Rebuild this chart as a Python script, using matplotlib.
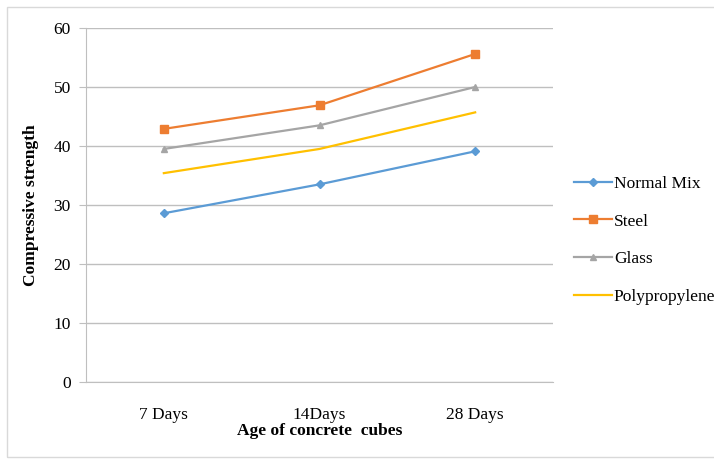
import matplotlib.pyplot as plt
from matplotlib.patches import Rectangle

categories = ["7 Days", "14Days", "28 Days"]
normal_mix = [28.6, 33.5, 39.1]
steel = [42.9, 46.9, 55.6]
glass = [39.5, 43.5, 50.0]
polypropylene = [35.4, 39.5, 45.7]

plt.rcParams['font.family'] = ['Liberation Serif', 'DejaVu Serif']

fig = plt.figure(figsize=(7.14, 4.65), dpi=100)
ax = fig.add_axes([86/714, 1 - 382/465, (553 - 86)/714, (382 - 28)/465])

# outer chart border
fig.patches.append(Rectangle((7/714, 8/465), 1.2, 450/465, transform=fig.transFigure,
                             fill=False, edgecolor='#d9d9d9', linewidth=1))

x = range(len(categories))
ax.plot(x, normal_mix, color='#5B9BD5', marker='D', markersize=4, linewidth=1.6, label='Normal Mix')
ax.plot(x, steel, color='#ED7D31', marker='s', markersize=6, linewidth=1.6, label='Steel')
ax.plot(x, glass, color='#A5A5A5', marker='^', markersize=5, linewidth=1.6, label='Glass')
ax.plot(x, polypropylene, color='#FFC000', linewidth=1.6, label='Polypropylene')

ax.set_xlim(-0.5, 2.5)
ax.set_ylim(0, 60)
ax.set_yticks(range(0, 61, 10))
ax.set_xticks(list(x))
ax.set_xticklabels(categories)
ax.yaxis.grid(True, color='#bfbfbf', linewidth=1)
ax.set_axisbelow(True)

for side in ['top', 'right']:
    ax.spines[side].set_visible(False)
ax.spines['left'].set_color('#bfbfbf')
ax.spines['bottom'].set_color('#bfbfbf')
ax.tick_params(axis='y', length=5, color='#bfbfbf', labelsize=12.5, pad=6)
ax.tick_params(axis='x', length=0, labelsize=12.5, pad=18)

ax.set_ylabel('Compressive strength', fontsize=12.5, fontweight='bold', labelpad=10)
ax.set_xlabel('Age of concrete  cubes', fontsize=12.5, fontweight='bold', labelpad=0)

ax.legend(loc='center left', bbox_to_anchor=(1.03, 0.4), frameon=False, fontsize=12.5,
          handlelength=2.2, handletextpad=0.1, labelspacing=1.25, borderaxespad=0)

fig.savefig('out.png', dpi=100)
